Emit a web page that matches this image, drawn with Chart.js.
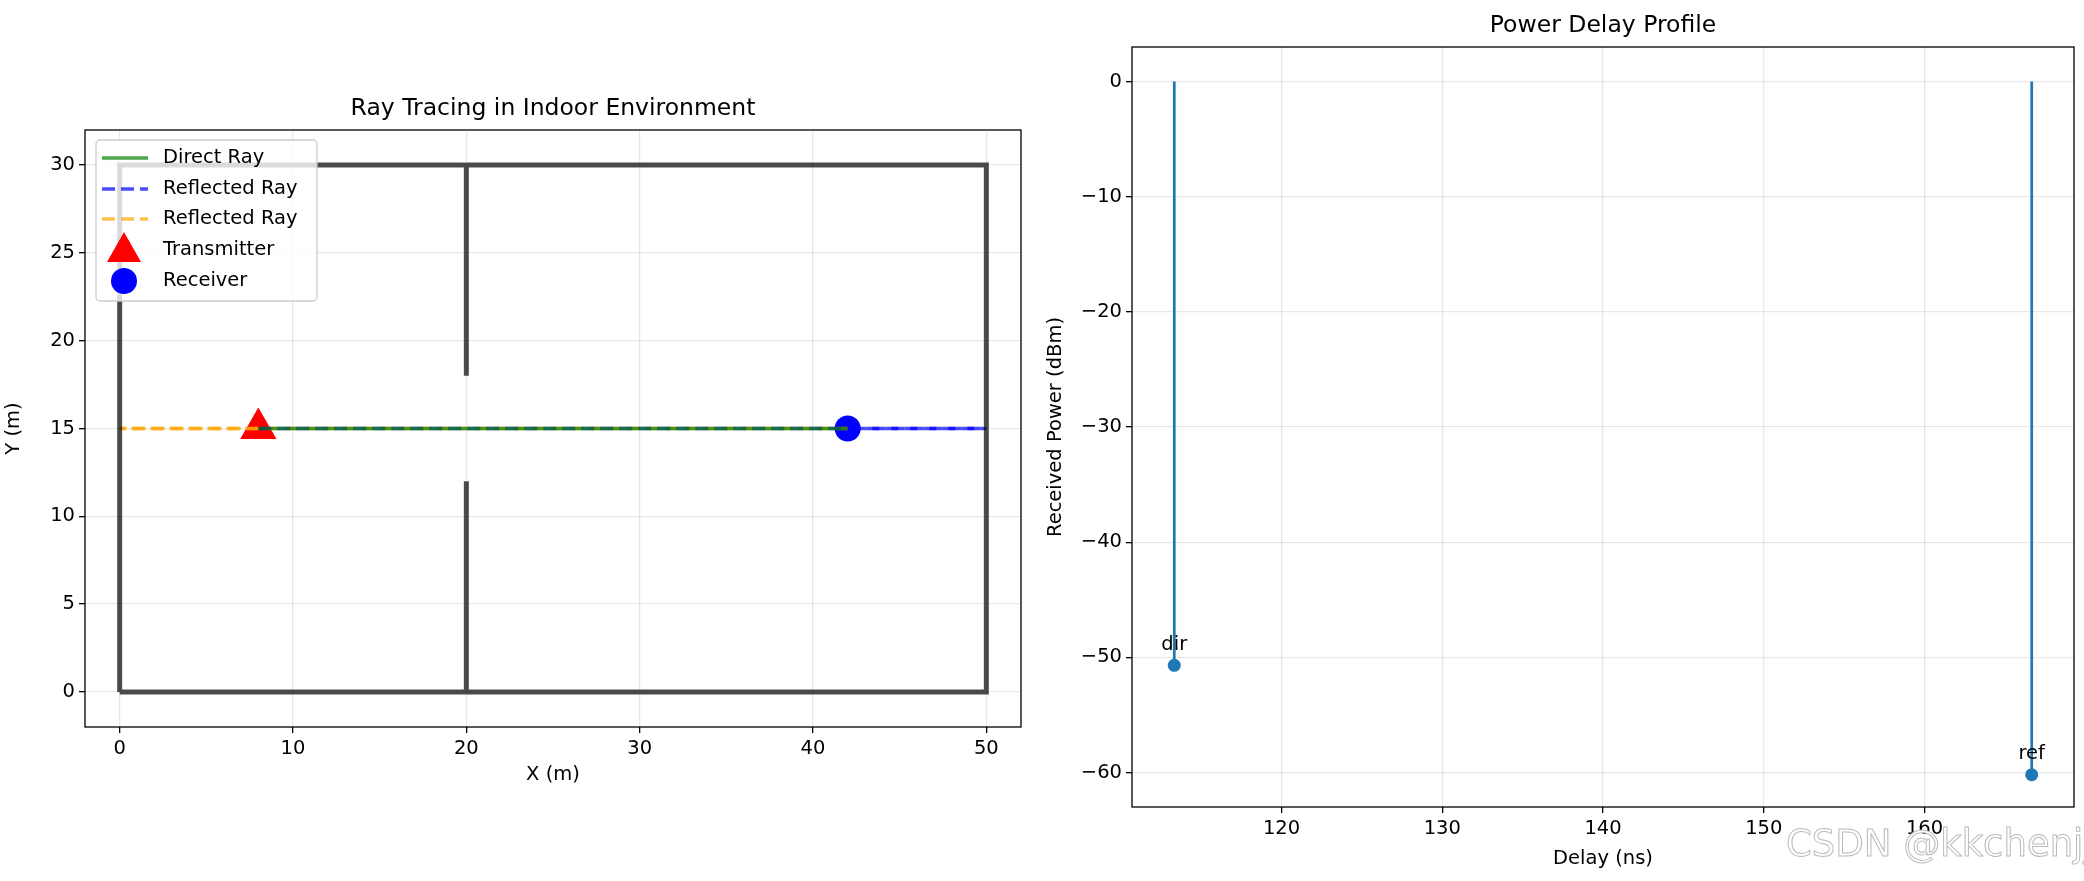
<!DOCTYPE html>
<html><head><meta charset="utf-8">
<script src="https://cdn.jsdelivr.net/npm/chart.js@4/dist/chart.umd.min.js"></script>
<style>
body{margin:0;background:#fff;width:2084px;height:881px;overflow:hidden;position:relative;font-family:"DejaVu Sans";}
.box{position:absolute;top:0;width:1042px;height:881px;}
#wm{position:absolute;left:1786px;top:822px;font:37px "DejaVu Sans";color:#fff;-webkit-text-stroke:1px #bbb;white-space:nowrap;}
</style></head><body>
<div class="box" style="left:0"><canvas id="c1"></canvas></div>
<div class="box" style="left:1042px"><canvas id="c2"></canvas></div>
<div id="wm">CSDN @kkchenjj</div>
<script>
// ---- data ----
const wallX = [0,50,50,0,0,null,20,20,null,20,20];
const wallY = [0,0,30,30,0,null,0,12,null,18,30];
const txPos = [8,15];
const rxPos = [42,15];
const directX = [8,42], directY = [15,15];
const refl1X = [8,50,42], refl1Y = [15,15,15];
const refl2X = [8,0,42], refl2Y = [15,15,15];
const xTicks1 = [0,10,20,30,40,50];
const yTicks1 = [0,5,10,15,20,25,30];
const delays = [113.33,166.67];
const powers = [-50.7,-60.2];
const pathLabels = ['dir','ref'];
const xTicks2 = [120,130,140,150,160];
const yTicks2 = [0,-10,-20,-30,-40,-50,-60];

const F = '"DejaVu Sans"';
const FS = 19.5;
const pts = (xs,ys)=>xs.map((x,i)=>({x:x,y:ys[i]}));
const ptsN = (xs,ys)=>xs.map((x,i)=>({x:x,y:x===null?null:ys[i]}));
const DASH=[13,6];

function frame(title){return{id:'frame',afterDraw(c){const a=c.chartArea,g=c.ctx;g.save();g.strokeStyle='#000';g.lineWidth=1.3;g.strokeRect(a.left,a.top,a.right-a.left,a.bottom-a.top);
g.fillStyle='#000';g.font='23.5px '+F;g.textAlign='center';g.textBaseline='bottom';g.fillText(title,(a.left+a.right)/2,a.top-9);g.restore();}};}
function axis(min,max,ticks,title,side,size){return{type:'linear',min:min,max:max,
 afterBuildTicks(s){s.ticks=ticks.map(v=>({value:v}));},
 afterFit(s){if(side==='x')s.height=size;else s.width=size;},
 grid:{color:'rgba(0,0,0,0.09)',lineWidth:1.3,tickColor:'#000',tickLength:6,drawOnChartArea:true},
 border:{display:false},
 ticks:{color:'#000',font:{family:F,size:FS},padding:4,maxRotation:0,callback:v=>String(v).replace('-','\u2212')},
 title:{display:true,text:title,color:'#000',font:{family:F,size:FS},padding:{top:2,bottom:4}}};}

const legendItems=[
 {t:'Direct Ray',k:'line',c:'rgba(0,128,0,0.7)',d:[]},
 {t:'Reflected Ray',k:'line',c:'rgba(0,0,255,0.7)',d:DASH},
 {t:'Reflected Ray',k:'line',c:'rgba(255,165,0,0.7)',d:DASH},
 {t:'Transmitter',k:'tri',c:'red'},
 {t:'Receiver',k:'circ',c:'blue'}];
const legendPlugin={id:'lg',afterDraw(c){const g=c.ctx;g.save();
 g.fillStyle='rgba(255,255,255,0.8)';g.strokeStyle='#ccc';g.lineWidth=1.3;
 g.beginPath();g.roundRect(96,140,221,161,4);g.fill();g.stroke();
 const rows=[158,189,219,250,281];
 legendItems.forEach((it,i)=>{const y=rows[i];
  if(it.k==='line'){g.strokeStyle=it.c;g.lineWidth=3.5;g.setLineDash(it.d);g.beginPath();g.moveTo(102,y);g.lineTo(148,y);g.stroke();g.setLineDash([]);}
  else if(it.k==='tri'){g.fillStyle=it.c;g.beginPath();g.moveTo(124,y-18);g.lineTo(141,y+12);g.lineTo(107,y+12);g.closePath();g.fill();}
  else{g.fillStyle=it.c;g.beginPath();g.arc(124,y,13,0,Math.PI*2);g.fill();}
  g.fillStyle='#000';g.font=FS+'px '+F;g.textAlign='left';g.textBaseline='middle';g.fillText(it.t,163,y);});
 g.restore();}};

const ray=(xs,ys,color,off)=>({type:'line',data:pts(xs,ys),borderColor:color,borderWidth:3.5,borderDash:DASH,borderDashOffset:off,pointRadius:0});
new Chart(document.getElementById('c1'),{type:'scatter',
 data:{datasets:[
  {type:'line',data:ptsN(wallX,wallY),borderColor:'rgba(0,0,0,0.7)',borderWidth:5,pointRadius:0,spanGaps:false,tension:0,borderCapStyle:'butt'},
  {type:'line',data:pts(directX,directY),borderColor:'rgba(0,128,0,0.7)',borderWidth:3.5,pointRadius:0},
  ray(refl1X.slice(0,2),refl1Y.slice(0,2),'rgba(0,0,255,0.7)',0),
  ray(refl1X.slice(1),refl1Y.slice(1),'rgba(0,0,255,0.7)',13),
  ray(refl2X.slice(0,2),refl2Y.slice(0,2),'rgba(255,165,0,0.7)',0),
  ray(refl2X.slice(1),refl2Y.slice(1),'rgba(255,165,0,0.7)',6),
  {data:[{x:txPos[0],y:txPos[1]}],pointStyle:'triangle',pointRadius:21,backgroundColor:'red',borderColor:'red',borderWidth:0},
  {data:[{x:rxPos[0],y:rxPos[1]}],pointStyle:'circle',pointRadius:13,backgroundColor:'blue',borderColor:'blue',borderWidth:0}
 ]},
 options:{responsive:true,maintainAspectRatio:false,animation:false,
  layout:{padding:{left:0,right:9,top:130,bottom:90}},
  plugins:{legend:{display:false},tooltip:{enabled:false}},
  scales:{x:axis(-2,52,xTicks1,'X (m)','x',64),y:axis(-2,32,yTicks1,'Y (m)','y',85)}},
 plugins:[frame('Ray Tracing in Indoor Environment'),legendPlugin]});

const stemSets=delays.map((d,i)=>({type:'line',data:[{x:d,y:0},{x:d,y:powers[i]}],borderColor:'#1f77b4',borderWidth:2.7,pointRadius:0}));
const annPlugin={id:'ann',afterDatasetsDraw(c){const g=c.ctx,xs=c.scales.x,ys=c.scales.y;g.save();g.fillStyle='#000';g.font=FS+'px '+F;g.textAlign='center';g.textBaseline='bottom';
 pathLabels.forEach((l,i)=>g.fillText(l,xs.getPixelForValue(delays[i]),ys.getPixelForValue(powers[i])-11));g.restore();}};
new Chart(document.getElementById('c2'),{type:'scatter',
 data:{datasets:[...stemSets,
  {data:delays.map((d,i)=>({x:d,y:powers[i]})),pointRadius:6.5,backgroundColor:'#1f77b4',borderColor:'#1f77b4',borderWidth:0}]},
 options:{responsive:true,maintainAspectRatio:false,animation:false,
  layout:{padding:{left:0,right:10,top:47,bottom:6}},
  plugins:{legend:{display:false},tooltip:{enabled:false}},
  scales:{x:axis(110.7,169.3,xTicks2,'Delay (ns)','x',68),y:axis(-63,3,yTicks2,'Received Power (dBm)','y',90)}},
 plugins:[frame('Power Delay Profile'),annPlugin]});
</script></body></html>
